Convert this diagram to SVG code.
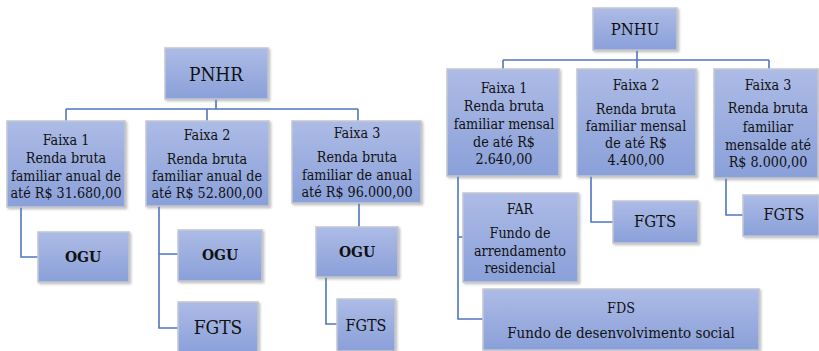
<svg xmlns="http://www.w3.org/2000/svg" width="819" height="351" viewBox="0 0 819 351">
<defs>
<linearGradient id="g" x1="0" y1="0" x2="0" y2="1">
<stop offset="0" stop-color="#adbbe6"/>
<stop offset="1" stop-color="#8aa0d9"/>
</linearGradient>
<filter id="sh" x="-10%" y="-10%" width="125%" height="130%">
<feDropShadow dx="1.5" dy="1.5" stdDeviation="1" flood-color="#808080" flood-opacity="0.5"/>
</filter>
</defs>
<style>
.box{fill:url(#g);stroke:#c3c7cf;stroke-width:1.5;filter:url(#sh)}
text{font-family:'DejaVu Serif Condensed','DejaVu Serif',serif;font-stretch:condensed;font-size:14.2px;fill:#111;text-anchor:middle}
.b{font-weight:bold;font-size:15.5px}
.s20{font-size:19px}
.s17{font-size:16.5px}
.s165{font-size:16px}
.fds{font-size:15px}
.con{fill:none;stroke:#4f76c0;stroke-width:1.6}
</style>
<rect width="819" height="351" fill="#ffffff"/>
<g id="connectors" class="con">
<path d="M216 99V109M66 109H358M66 109V121M207 109V121M358 109V121"/>
<path d="M21 207V257H38"/>
<path d="M159 206V328H178M159 254H178"/>
<path d="M359 203V227M326 277V324H337"/>
<path d="M637 50V60M503 60H769M503 60V69M637 60V69M769 60V69"/>
<path d="M458 176V319H483M458 237H463"/>
<path d="M591 176V222H613"/>
<path d="M726 178V215H743"/>
</g>
<g id="pnhr"><rect class="box" x="165" y="48" width="103" height="51"/><text class="s20" x="216" y="81">PNHR</text></g>
<g id="r-faixa1"><rect class="box" x="7" y="121" width="118" height="86"/>
<text x="66" y="145">Faixa 1</text><text x="66" y="163">Renda bruta</text><text x="66" y="181">familiar anual de</text><text x="66" y="198">até R$ 31.680,00</text></g>
<g id="r-faixa2"><rect class="box" x="146" y="121" width="123" height="85"/>
<text x="207" y="140">Faixa 2</text><text x="207" y="164">Renda bruta</text><text x="207" y="181">familiar anual de</text><text x="207" y="198">até R$ 52.800,00</text></g>
<g id="r-faixa3"><rect class="box" x="292" y="121" width="129" height="82"/>
<text x="357" y="138">Faixa 3</text><text x="357" y="162">Renda bruta</text><text x="357" y="180">familiar de anual</text><text x="357" y="197">até R$ 96.000,00</text></g>
<g id="r-ogu1"><rect class="box" x="38" y="232" width="91" height="50"/><text class="b" x="83" y="262">OGU</text></g>
<g id="r-ogu2"><rect class="box" x="178" y="230" width="84" height="51"/><text class="b" x="220" y="260">OGU</text></g>
<g id="r-fgts2"><rect class="box" x="178" y="302" width="80" height="52"/><text class="s20" x="218" y="334">FGTS</text></g>
<g id="r-ogu3"><rect class="box" x="316" y="227" width="82" height="50"/><text class="b" x="357" y="257">OGU</text></g>
<g id="r-fgts3"><rect class="box" x="337" y="299" width="58" height="52"/><text class="s165" x="366" y="331">FGTS</text></g>
<g id="pnhu"><rect class="box" x="593" y="8" width="84" height="42"/><text class="s17" x="635" y="35">PNHU</text></g>
<g id="u-faixa1"><rect class="box" x="447" y="69" width="112" height="107"/>
<text x="504" y="93">Faixa 1</text><text x="504" y="111">Renda bruta</text><text x="504" y="129">familiar mensal</text><text x="504" y="147">de até R$</text><text x="504" y="164">2.640,00</text></g>
<g id="u-faixa2"><rect class="box" x="577" y="69" width="119" height="107"/>
<text x="636" y="90">Faixa 2</text><text x="636" y="114">Renda bruta</text><text x="636" y="131">familiar mensal</text><text x="636" y="148">de até R$</text><text x="636" y="165">4.400,00</text></g>
<g id="u-faixa3"><rect class="box" x="714" y="69" width="104" height="109"/>
<text x="768" y="90">Faixa 3</text><text x="768" y="113">Renda bruta</text><text x="768" y="132">familiar</text><text x="768" y="150">mensalde até</text><text x="768" y="167">R$ 8.000,00</text></g>
<g id="u-far"><rect class="box" x="463" y="193" width="115" height="89"/>
<text x="520" y="214">FAR</text><text x="520" y="238">Fundo de</text><text x="520" y="256">arrendamento</text><text x="520" y="273">residencial</text></g>
<g id="u-fds"><rect class="box" x="483" y="289" width="276" height="61"/>
<text x="621" y="313">FDS</text><text class="fds" x="621" y="338">Fundo de desenvolvimento social</text></g>
<g id="u-fgts2"><rect class="box" x="613" y="201" width="85" height="42"/><text class="s17" x="655" y="227">FGTS</text></g>
<g id="u-fgts3"><rect class="box" x="743" y="195" width="76" height="41"/><text class="s165" x="784" y="220">FGTS</text></g>
</svg>
